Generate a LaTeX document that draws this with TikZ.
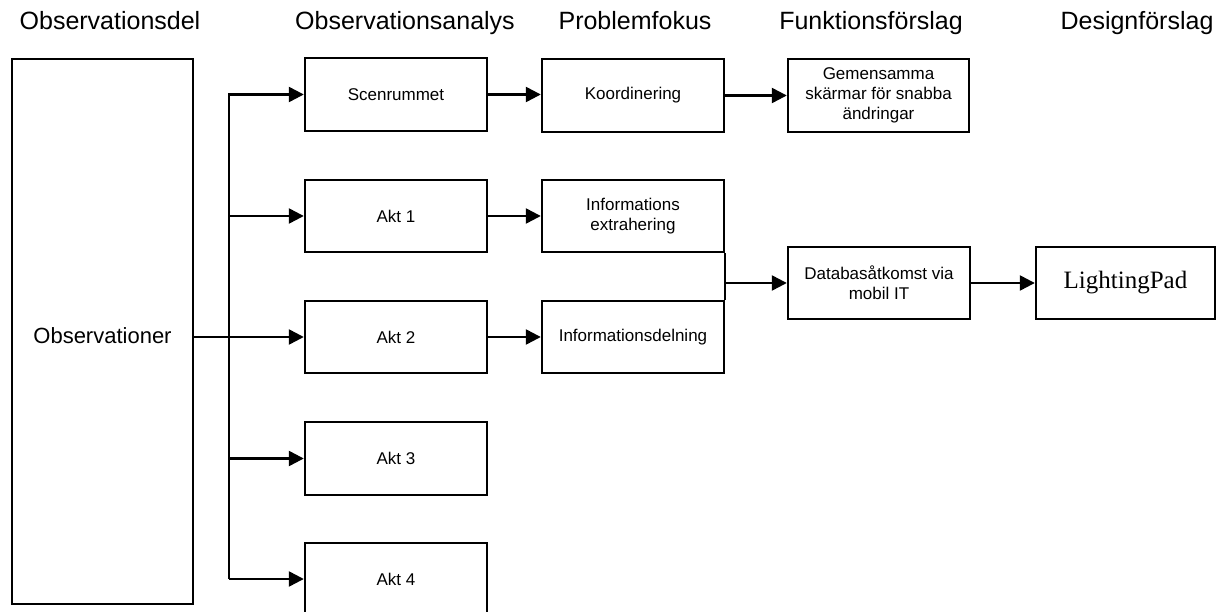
\documentclass[tikz,border=0pt]{standalone}
\usepackage{fontspec}
\setmainfont{Liberation Sans}
\newfontfamily\serifpad{Liberation Serif}
\usetikzlibrary{arrows.meta}
\begin{document}
\begin{tikzpicture}[x=1pt,y=-1pt,
  box/.style={draw, line width=2.4pt, minimum width=182pt, minimum height=72pt,
    inner sep=0pt, align=center, font=\fontsize{17}{20}\selectfont},
  head/.style={anchor=base, inner sep=0pt, font=\fontsize{25}{30}\selectfont},
  arr/.style={line width=2.4pt, line join=miter, -{Triangle[length=15pt,width=15pt]}},
  conn/.style={line width=2.4pt}]
\useasboundingbox (0,0) rectangle (1216,612);
\clip (0,0) rectangle (1216,612);

% column headings
\node[head] (h1) at (110,30)  {Observationsdel};
\node[head] (h2) at (405,30)  {Observationsanalys};
\node[head] (h3) at (635,30)  {Problemfokus};
\node[head] (h4) at (871,30)  {Funktionsförslag};
\node[head] (h5) at (1137,30) {Designförslag};

% observation part
\node[box, minimum width=181pt, minimum height=545pt] (obs) at (102.5,331.5) {};
\node[inner sep=0pt, font=\fontsize{22}{26}\selectfont] (obstext) at (102.5,336) {Observationer};

% observation analysis
\node[box, minimum height=73pt] (scen) at (396,94.5) {Scenrummet};
\node[box] (akt1) at (396,216)   {Akt 1};
\node[box] (akt2) at (396,337)   {Akt 2};
\node[box, minimum height=73pt] (akt3) at (396,458.5) {Akt 3};
\node[box] (akt4) at (396,579)   {Akt 4};

% problem focus
\node[box, minimum height=73pt] (koord) at (633,95.5) {Koordinering};
\node[box] (infoext) at (633,216) {Informations\\extrahering};
\node[box] (infodel) at (633,337) {Informationsdelning};

% function proposals
\node[box, minimum width=181pt, minimum height=73pt] (gem) at (878.5,95.5)
  {Gemensamma\\skärmar för snabba\\ändringar};
\node[box] (db) at (879,283) {Databasåtkomst via\\mobil IT};

% design proposal
\node[box, minimum width=179pt, font=\serifpad\fontsize{25}{30}\selectfont]
  (lp) at (1125.5,283) {LightingPad};

% trunk from the observations to the analysis boxes
\coordinate (trunk) at (229,0);
\draw[arr] (akt4.west -| trunk) -- (scen.west -| trunk) -- (scen.west);
\draw[arr] (akt4.west -| trunk) -- (akt4.west);
\draw[arr] (akt1.west -| trunk) -- (akt1.west);
\draw[arr] (akt3.west -| trunk) -- (akt3.west);
\draw[arr] (obs.east |- akt2.west) -- (akt2.west);

% analysis -> problem focus
\draw[arr] (scen.east) -- (koord.west |- scen.east);
\draw[arr] (akt1.east) -- (infoext.west);
\draw[arr] (akt2.east) -- (infodel.west);

% problem focus -> function proposals
\draw[arr] (koord.east) -- (gem.west);
\draw[conn] (infoext.south east) -- (infodel.north east);
\draw[arr] (infoext.east |- db.west) -- (db.west);

% function proposal -> design proposal
\draw[arr] (db.east) -- (lp.west);
\end{tikzpicture}
\end{document}
